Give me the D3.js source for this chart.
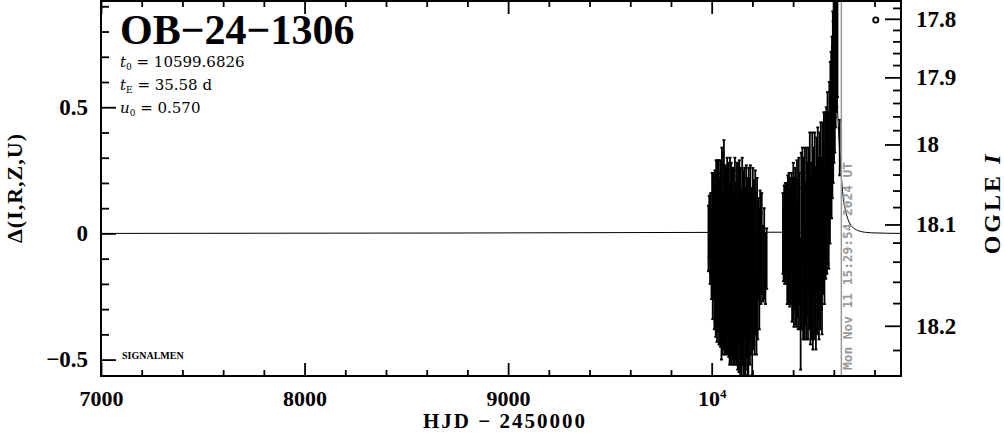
<!DOCTYPE html>
<html><head><meta charset="utf-8">
<script src="https://cdn.jsdelivr.net/npm/d3@7"></script>
<style>
html,body{margin:0;padding:0;background:#fff;}
svg{display:block;}
text{font-family:"Liberation Serif",serif;font-weight:bold;fill:#000;}
</style></head><body>
<svg id="chart" width="1004" height="434"></svg>
<script>
// ---------- data ----------
const title = "OB\u221224\u22121306";
const params = [["t","0"," = 10599.6826"],["t","E"," = 35.58 d"],["u","0"," = 0.570"]];
const nowLabel = "Mon Nov 11 15:29:54 2024 UT";
const nowT = 10637;

// season 1 (HJD-2450000, Delta, error)
const s1T = [9984,9988,9992,9995,9999,10002,10005,10008,10011,10013,10016,10018,10020,10022,10024,10026,10028,10030,10032,10034,10036,10038,10040,10042,10044,10046,10048,10050,10052,10054,10056,10058,10060,10062,10064,10066,10068,10070,10072,10074,10076,10078,10080,10082,10084,10086,10088,10090,10092,10094,10096,10098,10100,10102,10104,10106,10108,10110,10112,10114,10116,10118,10120,10122,10124,10126,10128,10130,10132,10134,10136,10138,10140,10142,10144,10146,10148,10150,10152,10154,10156,10158,10160,10162,10164,10166,10168,10170,10172,10174,10176,10178,10180,10182,10184,10186,10188,10190,10193,10196,10199,10202,10205,10208,10211,10214,10217,10220,10223,10226,10230,10234,10238,10242,10246,10252,10258,10264,10270];
const s1D = [-0.02,0.03,-0.06,0.00,-0.08,0.05,-0.12,-0.02,0.04,-0.16,0.08,-0.07,-0.20,0.06,-0.10,-0.25,0.02,-0.15,-0.04,0.10,-0.22,-0.08,-0.30,0.04,-0.18,-0.02,-0.26,0.08,-0.12,-0.34,0.02,-0.20,0.10,-0.06,-0.28,0.05,-0.15,-0.36,-0.02,-0.22,0.09,-0.10,-0.30,0.02,-0.18,-0.05,-0.38,0.06,-0.24,-0.12,0.00,-0.32,-0.08,-0.20,0.04,-0.40,-0.14,-0.02,-0.28,0.08,-0.18,-0.06,-0.34,-0.10,0.02,-0.24,-0.44,-0.04,-0.16,-0.30,0.06,-0.12,-0.36,-0.02,-0.22,-0.08,-0.40,0.04,-0.18,-0.30,-0.06,-0.46,-0.14,0.02,-0.26,-0.10,-0.34,0.05,-0.20,-0.04,-0.42,-0.14,-0.28,0.00,-0.18,-0.08,-0.32,0.04,-0.22,-0.10,-0.38,0.02,-0.16,-0.04,-0.26,0.05,-0.12,-0.32,-0.02,-0.20,-0.06,-0.14,0.00,-0.10,-0.04,-0.12,-0.08,-0.14,-0.10];
const s1E = [0.13,0.12,0.14,0.16,0.18,0.19,0.22,0.24,0.20,0.22,0.17,0.25,0.21,0.23,0.26,0.18,0.27,0.24,0.28,0.19,0.22,0.30,0.14,0.25,0.27,0.22,0.24,0.26,0.28,0.14,0.30,0.26,0.27,0.31,0.20,0.22,0.29,0.12,0.28,0.25,0.21,0.30,0.18,0.26,0.31,0.24,0.14,0.24,0.27,0.32,0.28,0.20,0.26,0.30,0.22,0.12,0.29,0.27,0.24,0.22,0.32,0.25,0.18,0.30,0.26,0.28,0.10,0.32,0.27,0.25,0.23,0.30,0.21,0.28,0.30,0.25,0.20,0.26,0.28,0.22,0.31,0.14,0.27,0.24,0.30,0.28,0.20,0.22,0.29,0.26,0.16,0.30,0.30,0.26,0.24,0.30,0.20,0.23,0.26,0.28,0.18,0.24,0.30,0.25,0.22,0.20,0.28,0.16,0.24,0.22,0.20,0.24,0.17,0.18,0.20,0.15,0.18,0.14,0.12];

// season 2
const s2T = [10350,10353,10356,10359,10362,10365,10368,10371,10374,10377,10380,10383,10386,10389,10392,10395,10398,10401,10404,10407,10410,10413,10416,10419,10422,10425,10428,10431,10434,10437,10440,10443,10446,10449,10452,10455,10458,10461,10464,10467,10470,10473,10476,10479,10482,10485,10488,10491,10494,10497,10500,10503,10506,10509,10512,10515,10518,10521,10524,10527,10530,10533,10536,10539,10542,10545,10548,10551,10554,10557,10560,10563,10566,10569,10572,10575,10578,10581,10583,10585,10587,10589,10591,10593,10595,10597,10599,10601,10603,10605,10607,10609,10611,10613,10615,10618,10629];
const s2D = [0.00,-0.05,0.04,-0.08,0.02,-0.04,0.06,-0.10,0.03,-0.06,0.08,-0.12,0.00,-0.08,0.05,-0.15,-0.02,0.08,-0.18,-0.04,0.04,-0.12,-0.22,0.06,-0.06,-0.16,0.10,-0.02,-0.20,-0.30,0.06,-0.10,0.12,-0.18,0.00,-0.24,0.08,-0.08,-0.16,0.14,-0.02,-0.22,0.06,-0.12,0.10,-0.20,0.00,-0.10,0.14,-0.24,0.04,-0.14,0.12,-0.06,-0.20,0.08,-0.10,0.16,-0.02,-0.18,0.10,-0.08,0.18,0.00,-0.12,0.14,0.04,0.22,-0.02,0.16,0.08,0.26,0.12,0.30,0.18,0.10,0.34,0.24,0.40,0.30,0.46,0.36,0.52,0.44,0.60,0.52,0.68,0.60,0.72,0.66,0.76,0.70,0.80,0.74,0.78,0.80,0.34];
const s2E = [0.16,0.14,0.15,0.12,0.18,0.16,0.14,0.18,0.20,0.22,0.16,0.17,0.22,0.20,0.19,0.20,0.24,0.20,0.19,0.26,0.22,0.24,0.15,0.23,0.27,0.22,0.20,0.26,0.18,0.24,0.26,0.28,0.22,0.24,0.30,0.18,0.26,0.28,0.26,0.20,0.30,0.20,0.28,0.26,0.30,0.24,0.28,0.32,0.26,0.22,0.30,0.28,0.28,0.32,0.26,0.30,0.30,0.26,0.32,0.24,0.30,0.30,0.26,0.30,0.28,0.30,0.28,0.26,0.26,0.32,0.26,0.24,0.28,0.26,0.30,0.24,0.26,0.28,0.28,0.24,0.26,0.30,0.26,0.30,0.28,0.32,0.30,0.32,0.28,0.34,0.30,0.28,0.30,0.26,0.28,0.26,0.11];

// model curve
const modelT = [7000,10450,10500,10540,10560,10575,10590,10600,10610,10625,10637,10645,10655,10670,10690,10720,10760,10800,10930];
const modelD = [0.000,0.005,0.021,0.090,0.206,0.364,0.644,0.731,0.634,0.376,0.225,0.150,0.100,0.055,0.027,0.011,0.004,0.002,0.000];

// extra marker
const markT = [10806], markD = [0.846];

// axis ticks
const xMajor = [7000,8000,9000,10000];
const xMajorLabels = ["7000","8000","9000","10"];
const xMinor = [7200,7400,7600,7800,8200,8400,8600,8800,9200,9400,9600,9800,10200,10400,10600,10800];
const yMajor = [-0.5,0,0.5];
const yMajorLabels = ["\u22120.5","0","0.5"];
const yMinor = [-0.4,-0.3,-0.2,-0.1,0.1,0.2,0.3,0.4,0.6,0.7,0.8,0.9];
const magMajor = [17.8,17.9,18.0,18.1,18.2];
const magMajorLabels = ["17.8","17.9","18","18.1","18.2"];
const magMinor = [17.78,17.82,17.84,17.86,17.88,17.92,17.94,17.96,17.98,18.02,18.04,18.06,18.08,18.12,18.14,18.16,18.18,18.22,18.24];
const I0 = 18.11, fs = 0.278;   // baseline OGLE I and source fraction (right axis)

// ---------- drawing ----------
const svg = d3.select("#chart");
const L=101, R=901, T=1, B=376;
const x = d3.scaleLinear().domain([7000,10930]).range([L,R]);
const y = d3.scaleLinear().domain([-0.565,0.921]).range([B,T]);
const magToDelta = m => 2.5*Math.log10((Math.pow(10,-0.4*(m-I0)) - (1-fs))/fs);

svg.append("defs").append("clipPath").attr("id","clip")
  .append("rect").attr("x",L).attr("y",T).attr("width",R-L).attr("height",B-T);

const plot = svg.append("g").attr("clip-path","url(#clip)");

// model
const line = d3.line().x((d,i)=>x(modelT[i])).y((d,i)=>y(modelD[i])).curve(d3.curveMonotoneX);
plot.append("path").datum(modelT).attr("d",line).attr("fill","none").attr("stroke","#000").attr("stroke-width",1);

// error bars
function bars(T_,D_,E_){
  const pts = T_.map((t,i)=>({t,d:D_[i],e:E_[i]}));
  const g = plot.append("g").attr("stroke","#000").attr("stroke-width",1.8);
  g.selectAll("line.v").data(pts).join("line").attr("class","v")
    .attr("x1",p=>x(p.t)).attr("x2",p=>x(p.t))
    .attr("y1",p=>y(p.d-p.e)).attr("y2",p=>y(p.d+p.e));
  g.selectAll("line.c1").data(pts).join("line").attr("class","c1")
    .attr("x1",p=>x(p.t)-1.5).attr("x2",p=>x(p.t)+1.5)
    .attr("y1",p=>y(p.d+p.e)).attr("y2",p=>y(p.d+p.e));
  g.selectAll("line.c2").data(pts).join("line").attr("class","c2")
    .attr("x1",p=>x(p.t)-1.5).attr("x2",p=>x(p.t)+1.5)
    .attr("y1",p=>y(p.d-p.e)).attr("y2",p=>y(p.d-p.e));
}
bars(s1T,s1D,s1E);
bars(s2T,s2D,s2E);

plot.selectAll("circle.mk").data(markT).join("circle").attr("class","mk")
  .attr("cx",(d,i)=>x(markT[i])).attr("cy",(d,i)=>y(markD[i])).attr("r",2.6)
  .attr("fill","#fff").attr("stroke","#000").attr("stroke-width",1.8);

// current-time line
svg.append("line").attr("x1",x(nowT)).attr("x2",x(nowT)).attr("y1",T).attr("y2",B)
  .attr("stroke","#999").attr("stroke-width",1.5);
svg.append("text").attr("transform",`translate(${x(nowT)+11},370) rotate(-90)`)
  .style("font-family","'DejaVu Sans Mono',monospace").style("font-weight","bold").style("font-size","12.8px").style("fill","#999")
  .text(nowLabel);

// axes
function styleAxis(g){ g.select(".domain").remove(); g.selectAll("line").attr("stroke","#000").attr("stroke-width",1.8); }
svg.append("g").attr("transform",`translate(0,${B})`)
  .call(d3.axisBottom(x).tickValues(xMajor).tickSize(-13).tickPadding(14).tickFormat((d,i)=>xMajorLabels[i]))
  .call(styleAxis).call(g=>g.selectAll("text").style("font-family","'Liberation Serif',serif").style("font-size","22px").style("font-weight","bold"));
svg.append("g").attr("transform",`translate(0,${B})`)
  .call(d3.axisBottom(x).tickValues(xMinor).tickSize(-6).tickFormat("")).call(styleAxis);
svg.append("g").attr("transform",`translate(0,${T})`)
  .call(d3.axisTop(x).tickValues(xMajor).tickSize(-13).tickFormat("")).call(styleAxis);
svg.append("g").attr("transform",`translate(0,${T})`)
  .call(d3.axisTop(x).tickValues(xMinor).tickSize(-6).tickFormat("")).call(styleAxis);
// superscript on 10^4
svg.selectAll("g.tick text").filter(function(){return this.textContent==="10";})
  .append("tspan").attr("dy","-0.55em").style("font-size","13px").text("4");

svg.append("g").attr("transform",`translate(${L},0)`)
  .call(d3.axisLeft(y).tickValues(yMajor).tickSize(-15).tickPadding(13).tickFormat((d,i)=>yMajorLabels[i]))
  .call(styleAxis).call(g=>g.selectAll("text").style("font-family","'Liberation Serif',serif").style("font-size","23px").style("font-weight","bold"));
svg.append("g").attr("transform",`translate(${L},0)`)
  .call(d3.axisLeft(y).tickValues(yMinor).tickSize(-8).tickFormat("")).call(styleAxis);

svg.append("g").attr("transform",`translate(${R},0)`)
  .call(d3.axisRight(y).tickValues(magMajor.map(magToDelta)).tickSize(-16).tickPadding(15).tickFormat((d,i)=>magMajorLabels[i]))
  .call(styleAxis).call(g=>g.selectAll("text").style("font-family","'Liberation Serif',serif").style("font-size","23px").style("font-weight","bold"));
svg.append("g").attr("transform",`translate(${R},0)`)
  .call(d3.axisRight(y).tickValues(magMinor.map(magToDelta).filter(v=>v<=0.921&&v>=-0.565)).tickSize(-8).tickFormat("")).call(styleAxis);

// frame
svg.append("rect").attr("x",L).attr("y",T).attr("width",R-L).attr("height",B-T)
  .attr("fill","none").attr("stroke","#000").attr("stroke-width",2);

// titles
svg.append("text").attr("x",120).attr("y",44).style("font-size","42px").text(title);
params.forEach((p,i)=>{
  const t = svg.append("text").attr("x",120).attr("y",67+i*23)
    .style("font-family","'DejaVu Serif',serif").style("font-weight","normal").style("font-size","15px");
  t.append("tspan").style("font-style","italic").text(p[0]);
  t.append("tspan").attr("dy",3).style("font-size","9px").text(p[1]);
  t.append("tspan").attr("dy",-3).text(p[2]);
});
svg.append("text").attr("x",122).attr("y",359).style("font-size","10px").text("SIGNALMEN");

svg.append("text").attr("x",505).attr("y",428).attr("text-anchor","middle")
  .style("font-size","21px").style("letter-spacing","2px").style("white-space","pre").text("HJD \u2212 2450000");
svg.append("text").attr("transform","translate(22,188) rotate(-90)").attr("text-anchor","middle")
  .style("font-size","22px").style("letter-spacing","1px").text("\u0394(I,R,Z,U)");
const ot = svg.append("text").attr("transform","translate(1000,203) rotate(-90)").attr("text-anchor","middle")
  .style("font-size","24px").style("letter-spacing","3px").style("white-space","pre");
ot.append("tspan").text("OGLE ");
ot.append("tspan").style("font-style","italic").text("I");
</script>
</body></html>
